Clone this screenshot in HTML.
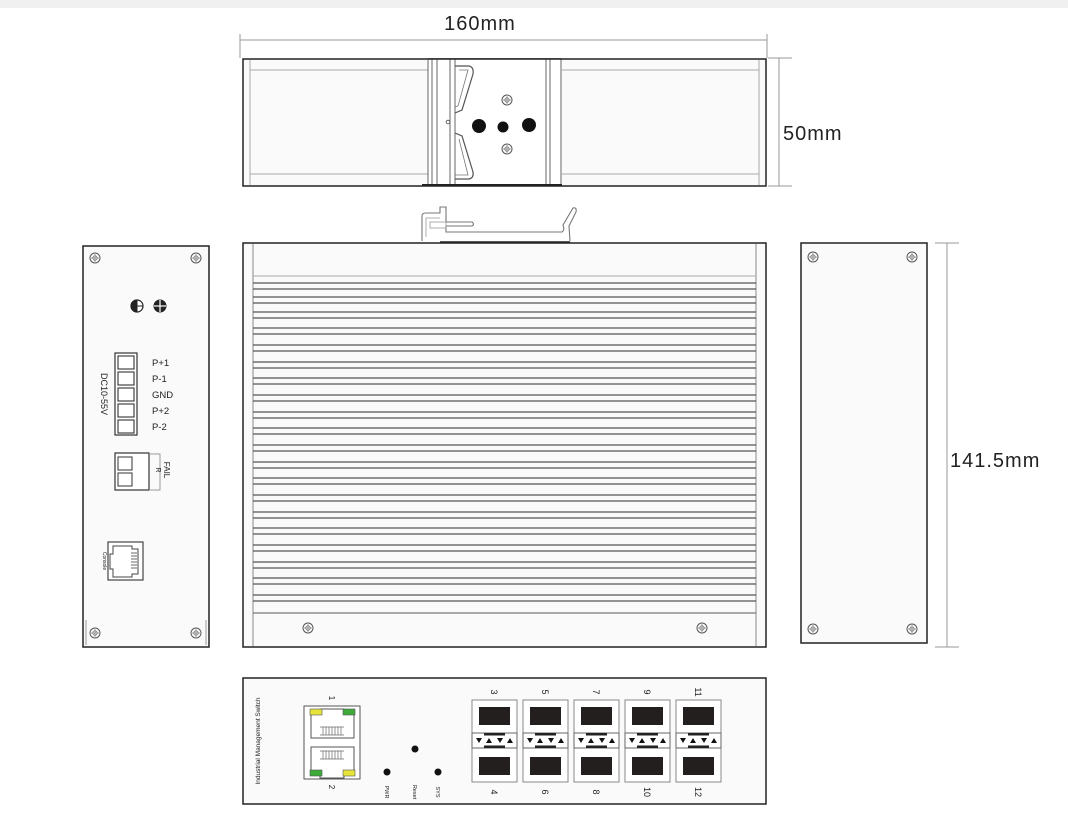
<!DOCTYPE html>
<html><head><meta charset="utf-8"><style>
html,body{margin:0;padding:0;background:#fff;}
svg{display:block;}
text{font-family:"Liberation Sans",sans-serif;fill:#222;}
</style></head><body>
<svg width="1068" height="816" viewBox="0 0 1068 816" xmlns="http://www.w3.org/2000/svg">
<defs>
<g id="scr"><circle r="5" fill="#fff" stroke="#555" stroke-width="1"/><circle r="2.2" fill="none" stroke="#777" stroke-width="0.8"/><line x1="-4" y1="0" x2="4" y2="0" stroke="#777" stroke-width="0.7"/><line x1="0" y1="-4" x2="0" y2="4" stroke="#777" stroke-width="0.7"/></g>
<g id="sfp">
<rect x="0" y="0" width="45" height="82" fill="#fff" stroke="#888" stroke-width="1"/>
<rect x="7" y="7" width="31" height="18" fill="#231f1e"/>
<rect x="7" y="57" width="31" height="18" fill="#231f1e"/>
<rect x="0" y="33" width="45" height="15" fill="#fff" stroke="#666" stroke-width="1"/>
<rect x="12" y="33" width="21" height="2.5" fill="#222"/>
<rect x="12" y="45.5" width="21" height="2.5" fill="#222"/>
<polygon points="4,38 10,38 7,43" fill="#111"/>
<polygon points="14,43 20,43 17,38" fill="#111"/>
<polygon points="25,38 31,38 28,43" fill="#111"/>
<polygon points="35,43 41,43 38,38" fill="#111"/>
</g>
</defs>
<rect x="0" y="0" width="1068" height="8" fill="#f0f0f0"/>

<!-- dimension 160mm -->
<line x1="240" y1="40" x2="767" y2="40" stroke="#999" stroke-width="1"/>
<line x1="240" y1="34" x2="240" y2="58" stroke="#999"/>
<line x1="767" y1="34" x2="767" y2="58" stroke="#999"/>
<text x="480" y="30" font-size="20" text-anchor="middle" letter-spacing="1">160mm</text>
<!-- 50mm -->
<line x1="779" y1="58" x2="779" y2="186" stroke="#999"/>
<line x1="768" y1="58" x2="792" y2="58" stroke="#999"/>
<line x1="768" y1="186" x2="792" y2="186" stroke="#999"/>
<text x="783" y="140" font-size="20" letter-spacing="1">50mm</text>
<!-- 141.5mm -->
<line x1="947" y1="243" x2="947" y2="647" stroke="#999"/>
<line x1="935" y1="243" x2="959" y2="243" stroke="#999"/>
<line x1="935" y1="647" x2="959" y2="647" stroke="#999"/>
<text x="950" y="467" font-size="20" letter-spacing="1">141.5mm</text>

<!-- top view -->
<rect x="243" y="59" width="523" height="127" fill="#fafafa" stroke="#222" stroke-width="1.5"/>
<line x1="250" y1="70" x2="759" y2="70" stroke="#aaa"/>
<line x1="250" y1="174" x2="759" y2="174" stroke="#aaa"/>
<line x1="250" y1="60" x2="250" y2="185" stroke="#aaa"/>
<line x1="759" y1="60" x2="759" y2="185" stroke="#aaa"/>
<rect x="428" y="59" width="134" height="127" fill="#fff" stroke="none"/>
<line x1="428" y1="59" x2="428" y2="186" stroke="#666"/>
<line x1="432" y1="59" x2="432" y2="186" stroke="#666"/>
<line x1="437" y1="59" x2="437" y2="186" stroke="#666"/>
<line x1="450" y1="59" x2="450" y2="186" stroke="#666"/>
<line x1="455" y1="59" x2="455" y2="186" stroke="#666"/>
<line x1="546" y1="59" x2="546" y2="186" stroke="#666"/>
<line x1="550" y1="59" x2="550" y2="186" stroke="#666"/>
<line x1="561" y1="59" x2="561" y2="186" stroke="#666"/>
<line x1="428" y1="59" x2="562" y2="59" stroke="#222" stroke-width="1.5"/>
<line x1="422" y1="185" x2="562" y2="185" stroke="#222" stroke-width="2"/>
<path d="M455 66 L469 66 Q474 67 473 74 L462 110 L455 113" fill="none" stroke="#555" stroke-width="1.2"/>
<path d="M459 70 L468 70 L458 106 L455 107" fill="none" stroke="#777" stroke-width="0.8"/>
<path d="M455 133 L462 136 L473 172 Q474 178 469 179 L455 179" fill="none" stroke="#555" stroke-width="1.2"/>
<path d="M459 139 L468 175 L455 175" fill="none" stroke="#777" stroke-width="0.8"/>
<circle cx="448" cy="122" r="1.8" fill="none" stroke="#666"/>
<circle cx="479" cy="126" r="7" fill="#111"/>
<circle cx="503" cy="127" r="5.5" fill="#111"/>
<circle cx="529" cy="125" r="7" fill="#111"/>
<use href="#scr" x="507" y="100"/>
<use href="#scr" x="507" y="149"/>

<!-- DIN clip -->
<path d="M422 241 L422 216 Q422 213 426 213 L440 213 L440 207 L446 207 L446 222 L472 222 Q475 224 472 226 L446 226 L446 232 L562 232 Q565 230 563 225 L573 208 Q577 207 576 212 L569 226 L570 241" fill="none" stroke="#777" stroke-width="1.1"/>
<path d="M426 237 L426 218 L440 218" fill="none" stroke="#999" stroke-width="0.8"/>
<rect x="430" y="222" width="16" height="6" fill="none" stroke="#999" stroke-width="0.8"/>
<line x1="440" y1="242" x2="570" y2="242" stroke="#222" stroke-width="1.5"/>

<!-- main body -->
<rect x="243" y="243" width="523" height="404" fill="#fafafa" stroke="#222" stroke-width="1.5"/>
<line x1="253" y1="244" x2="253" y2="646" stroke="#888"/>
<line x1="756" y1="244" x2="756" y2="646" stroke="#888"/>
<line x1="253" y1="276" x2="756" y2="276" stroke="#aaa"/>
<g stroke="#555" stroke-width="1.3">
<line x1="253" y1="283" x2="756" y2="283"/><line x1="253" y1="289" x2="756" y2="289"/>
<line x1="253" y1="297" x2="756" y2="297"/><line x1="253" y1="303" x2="756" y2="303"/>
<line x1="253" y1="312" x2="756" y2="312"/><line x1="253" y1="318" x2="756" y2="318"/>
<line x1="253" y1="328" x2="756" y2="328"/><line x1="253" y1="334" x2="756" y2="334"/>
<line x1="253" y1="345" x2="756" y2="345"/><line x1="253" y1="351" x2="756" y2="351"/>
<line x1="253" y1="362" x2="756" y2="362"/><line x1="253" y1="368" x2="756" y2="368"/>
<line x1="253" y1="378" x2="756" y2="378"/><line x1="253" y1="384" x2="756" y2="384"/>
<line x1="253" y1="395" x2="756" y2="395"/><line x1="253" y1="401" x2="756" y2="401"/>
<line x1="253" y1="412" x2="756" y2="412"/><line x1="253" y1="418" x2="756" y2="418"/>
<line x1="253" y1="428" x2="756" y2="428"/><line x1="253" y1="434" x2="756" y2="434"/>
<line x1="253" y1="445" x2="756" y2="445"/><line x1="253" y1="451" x2="756" y2="451"/>
<line x1="253" y1="462" x2="756" y2="462"/><line x1="253" y1="468" x2="756" y2="468"/>
<line x1="253" y1="478" x2="756" y2="478"/><line x1="253" y1="484" x2="756" y2="484"/>
<line x1="253" y1="495" x2="756" y2="495"/><line x1="253" y1="501" x2="756" y2="501"/>
<line x1="253" y1="512" x2="756" y2="512"/><line x1="253" y1="518" x2="756" y2="518"/>
<line x1="253" y1="528" x2="756" y2="528"/><line x1="253" y1="534" x2="756" y2="534"/>
<line x1="253" y1="545" x2="756" y2="545"/><line x1="253" y1="551" x2="756" y2="551"/>
<line x1="253" y1="562" x2="756" y2="562"/><line x1="253" y1="568" x2="756" y2="568"/>
<line x1="253" y1="578" x2="756" y2="578"/><line x1="253" y1="584" x2="756" y2="584"/>
<line x1="253" y1="595" x2="756" y2="595"/><line x1="253" y1="601" x2="756" y2="601"/>
</g>
<line x1="253" y1="613" x2="756" y2="613" stroke="#777" stroke-width="1.2"/>
<use href="#scr" x="308" y="628"/>
<use href="#scr" x="702" y="628"/>

<!-- left panel -->
<rect x="83" y="246" width="126" height="401" fill="#fafafa" stroke="#222" stroke-width="1.5"/>
<line x1="86" y1="620" x2="86" y2="645" stroke="#999"/>
<line x1="206" y1="620" x2="206" y2="645" stroke="#999"/>
<use href="#scr" x="95" y="258"/><use href="#scr" x="196" y="258"/>
<use href="#scr" x="95" y="633"/><use href="#scr" x="196" y="633"/>
<circle cx="137" cy="306" r="6" fill="#fff" stroke="#222" stroke-width="1.2"/>
<path d="M137 300 A6 6 0 0 0 137 312 Z M131 306 L143 306" fill="#222" stroke="#222"/>
<circle cx="160" cy="306" r="6.5" fill="#222"/>
<line x1="154" y1="306" x2="166" y2="306" stroke="#fff" stroke-width="1.2"/>
<line x1="160" y1="300" x2="160" y2="312" stroke="#fff" stroke-width="1.2"/>
<rect x="115" y="353" width="22" height="82" fill="#fff" stroke="#333" stroke-width="1.2"/>
<g fill="#fff" stroke="#333" stroke-width="1.1">
<rect x="118" y="356" width="16" height="13"/><rect x="118" y="372" width="16" height="13"/>
<rect x="118" y="388" width="16" height="13"/><rect x="118" y="404" width="16" height="13"/>
<rect x="118" y="420" width="16" height="13"/>
</g>
<g font-size="9.5">
<text x="152" y="366">P+1</text><text x="152" y="382">P-1</text><text x="152" y="398">GND</text>
<text x="152" y="414">P+2</text><text x="152" y="430">P-2</text>
</g>
<text transform="translate(101,394) rotate(90)" font-size="9" text-anchor="middle">DC10-55V</text>
<rect x="115" y="453" width="34" height="37" fill="#fff" stroke="#333" stroke-width="1.2"/>
<rect x="118" y="457" width="14" height="13" fill="#fff" stroke="#333"/>
<rect x="118" y="473" width="14" height="13" fill="#fff" stroke="#333"/>
<path d="M149 454 L160 454 L160 490 L149 490" fill="none" stroke="#999"/>
<text transform="translate(164,470) rotate(90)" font-size="8" text-anchor="middle">FAIL</text>
<text transform="translate(156,470) rotate(90)" font-size="7" text-anchor="middle">R</text>
<rect x="108" y="542" width="35" height="38" fill="#fff" stroke="#333" stroke-width="1.1"/>
<path d="M113 546 L132 546 L132 549 L138 549 L138 574 L132 574 L132 577 L113 577 L113 569 L110 569 L110 554 L113 554 Z" fill="none" stroke="#444"/>
<g stroke="#444" stroke-width="0.8"><line x1="131" y1="553" x2="137" y2="553"/><line x1="131" y1="556" x2="137" y2="556"/><line x1="131" y1="559" x2="137" y2="559"/><line x1="131" y1="562" x2="137" y2="562"/><line x1="131" y1="565" x2="137" y2="565"/><line x1="131" y1="568" x2="137" y2="568"/></g>
<text transform="translate(103,561) rotate(90)" font-size="5" text-anchor="middle">Console</text>

<!-- right panel -->
<rect x="801" y="243" width="126" height="400" fill="#fafafa" stroke="#222" stroke-width="1.5"/>
<use href="#scr" x="813" y="257"/><use href="#scr" x="912" y="257"/>
<use href="#scr" x="813" y="629"/><use href="#scr" x="912" y="629"/>

<!-- front panel -->
<rect x="243" y="678" width="523" height="126" fill="#fafafa" stroke="#222" stroke-width="1.5"/>
<text transform="translate(260,741) rotate(-90)" font-size="6.5" text-anchor="middle">Industrial Management Switch</text>
<rect x="304" y="706" width="56" height="73" fill="#fff" stroke="#555" stroke-width="1"/>
<path d="M320 712 L320 709 L344 709 L344 712 L354 712 L354 738 L311 738 L311 712 Z" fill="none" stroke="#555"/>
<path d="M320 775 L320 778 L344 778 L344 775 L354 775 L354 747 L311 747 L311 775 Z" fill="none" stroke="#555"/>
<rect x="310" y="709" width="12" height="6" fill="#e6e43a" stroke="#555" stroke-width="0.6"/>
<rect x="343" y="709" width="12" height="6" fill="#3daa3a" stroke="#555" stroke-width="0.6"/>
<rect x="310" y="770" width="12" height="6" fill="#3daa3a" stroke="#555" stroke-width="0.6"/>
<rect x="343" y="770" width="12" height="6" fill="#e6e43a" stroke="#555" stroke-width="0.6"/>
<g stroke="#666" stroke-width="0.7">
<line x1="320" y1="727" x2="344" y2="727"/><line x1="320" y1="735" x2="344" y2="735"/>
<line x1="320" y1="751" x2="344" y2="751"/><line x1="320" y1="759" x2="344" y2="759"/>
<line x1="323" y1="727" x2="323" y2="735"/><line x1="326" y1="727" x2="326" y2="735"/><line x1="329" y1="727" x2="329" y2="735"/><line x1="332" y1="727" x2="332" y2="735"/><line x1="335" y1="727" x2="335" y2="735"/><line x1="338" y1="727" x2="338" y2="735"/><line x1="341" y1="727" x2="341" y2="735"/>
<line x1="323" y1="751" x2="323" y2="759"/><line x1="326" y1="751" x2="326" y2="759"/><line x1="329" y1="751" x2="329" y2="759"/><line x1="332" y1="751" x2="332" y2="759"/><line x1="335" y1="751" x2="335" y2="759"/><line x1="338" y1="751" x2="338" y2="759"/><line x1="341" y1="751" x2="341" y2="759"/>
</g>
<text transform="translate(329,698) rotate(90)" font-size="8" text-anchor="middle">1</text>
<text transform="translate(329,787) rotate(90)" font-size="8" text-anchor="middle">2</text>
<circle cx="387" cy="772" r="3.5" fill="#111"/>
<circle cx="415" cy="749" r="3.5" fill="#111"/>
<circle cx="438" cy="772" r="3.5" fill="#111"/>
<text transform="translate(385,792) rotate(90)" font-size="5.5" text-anchor="middle">PWR</text>
<text transform="translate(413,792) rotate(90)" font-size="5.5" text-anchor="middle">Reset</text>
<text transform="translate(436,792) rotate(90)" font-size="5.5" text-anchor="middle">SYS</text>
<use href="#sfp" x="472" y="700"/>
<use href="#sfp" x="523" y="700"/>
<use href="#sfp" x="574" y="700"/>
<use href="#sfp" x="625" y="700"/>
<use href="#sfp" x="676" y="700"/>
<g font-size="9" text-anchor="middle">
<text transform="translate(491,692) rotate(90)">3</text>
<text transform="translate(542,692) rotate(90)">5</text>
<text transform="translate(593,692) rotate(90)">7</text>
<text transform="translate(644,692) rotate(90)">9</text>
<text transform="translate(695,692) rotate(90)">11</text>
<text transform="translate(491,792) rotate(90)">4</text>
<text transform="translate(542,792) rotate(90)">6</text>
<text transform="translate(593,792) rotate(90)">8</text>
<text transform="translate(644,792) rotate(90)">10</text>
<text transform="translate(695,792) rotate(90)">12</text>
</g>
</svg>
</body></html>
